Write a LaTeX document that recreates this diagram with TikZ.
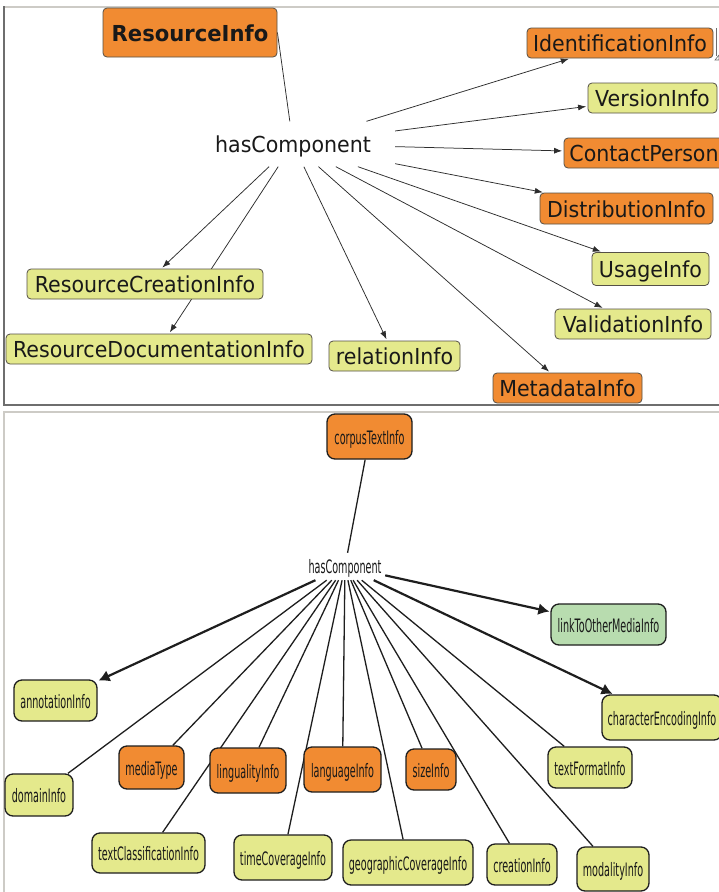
\documentclass[tikz,border=0pt]{standalone}
\usepackage{fontspec}
\setmainfont{DejaVu Sans}
\newfontfamily\topfont[FakeStretch=0.935]{DejaVu Sans}
\newfontfamily\topboldfont[FakeStretch=0.96]{DejaVu Sans}
\newfontfamily\lowfont[FakeStretch=0.52]{DejaVu Sans}
\usetikzlibrary{arrows.meta,backgrounds}

\definecolor{orangeF}{RGB}{241,139,50}
\definecolor{yellowF}{RGB}{228,233,140}
\definecolor{greenF}{RGB}{184,220,175}
\definecolor{tbord}{RGB}{85,80,70}
\definecolor{bbord}{RGB}{30,30,30}
\definecolor{tink}{RGB}{25,25,25}
\definecolor{lineC}{RGB}{45,45,45}
\definecolor{frameDark}{RGB}{110,110,110}
\definecolor{frameLight}{RGB}{205,203,198}

\tikzset{
  tnode/.style={draw=tbord, line width=0.8pt, rounded corners=4pt, inner sep=0pt,
    text=tink, font=\topfont\fontsize{22}{26}\selectfont,
    text height=17pt, text depth=0pt},
  torange/.style={tnode, fill=orangeF},
  tyellow/.style={tnode, fill=yellowF},
  tlink/.style={draw=lineC, line width=0.75pt, -{Latex[length=8pt,width=6pt]}, shorten >=1.5pt},
  tplain/.style={draw=lineC, line width=0.75pt},
  bnode/.style={draw=bbord, line width=1.3pt, rounded corners=8pt, inner sep=0pt,
    text=tink, font=\lowfont\fontsize{18.5}{22}\selectfont,
    text height=15pt, text depth=0pt},
  borange/.style={bnode, fill=orangeF},
  byellow/.style={bnode, fill=yellowF},
  bgreen/.style={bnode, fill=greenF},
  bline/.style={draw=bbord, line width=1.3pt},
  barrow/.style={draw=bbord, line width=2.2pt, -{Latex[length=11pt,width=12pt]}, shorten >=1pt},
}

\begin{document}
\begin{tikzpicture}[x=1pt,y=-1pt]
\useasboundingbox (0,0) rectangle (719,892);

% ---------- upper panel: ResourceInfo ----------
\node[torange, font=\topboldfont\bfseries\fontsize{22}{26}\selectfont,
      minimum width=174pt, minimum height=49pt] (ri) at (190,32.5) {ResourceInfo};
\node[inner sep=0pt, minimum width=204pt, minimum height=45pt, text=tink,
      font=\topfont\fontsize{22}{26}\selectfont, text height=17pt, text depth=0pt]
      (hc1) at (293,144) {hasComponent};

\node[torange, minimum width=186pt, minimum height=30pt] (idi)   at (620,43)    {IdentificationInfo};
\node[tyellow, minimum width=129pt, minimum height=30pt] (ver)   at (652.5,98)  {VersionInfo};
\node[torange, minimum width=160pt, minimum height=30pt] (cp)    at (644,153)   {ContactPerson};
\node[torange, minimum width=173pt, minimum height=31pt] (dist)  at (626.5,208.5) {DistributionInfo};
\node[tyellow, minimum width=117pt, minimum height=33pt] (usage) at (650.5,269)  {UsageInfo};
\node[tyellow, minimum width=156pt, minimum height=30pt] (valid) at (633,324)    {ValidationInfo};
\node[torange, minimum width=149pt, minimum height=30pt] (meta)  at (567.5,388)  {MetadataInfo};
\node[tyellow, minimum width=236pt, minimum height=30pt] (rci)   at (145,284)    {ResourceCreationInfo};
\node[tyellow, minimum width=306pt, minimum height=30pt] (rdi)   at (159,349)    {ResourceDocumentationInfo};
\node[tyellow, minimum width=131pt, minimum height=30pt] (rel)   at (394.5,356)  {relationInfo};

% ---------- lower panel: corpusTextInfo ----------
\node[borange, minimum width=85pt, minimum height=45pt] (cti) at (369.5,436.5) {corpusTextInfo};
\node[inner sep=0pt, minimum width=80pt, minimum height=27pt, text=tink,
      font=\lowfont\fontsize{18.5}{22}\selectfont, text height=13pt, text depth=0pt]
      (hc2) at (345,566.5) {hasComponent};

\node[bgreen,  minimum width=115pt, minimum height=41pt] (link) at (608.5,624.5) {linkToOtherMediaInfo};
\node[byellow, minimum width=83pt,  minimum height=41pt] (ann)  at (55.5,700.5)  {annotationInfo};
\node[byellow, minimum width=68pt,  minimum height=42pt] (dom)  at (39,795)      {domainInfo};
\node[borange, minimum width=65pt,  minimum height=43pt] (med)  at (151.5,767.5) {mediaType};
\node[borange, minimum width=76pt,  minimum height=45pt] (ling) at (248,770.5)   {lingualityInfo};
\node[borange, minimum width=77pt,  minimum height=45pt] (lang) at (342.5,769.5) {languageInfo};
\node[borange, minimum width=50pt,  minimum height=41pt] (size) at (431,769.5)   {sizeInfo};
\node[byellow, minimum width=84pt,  minimum height=41pt] (tfi)  at (590,767.5)   {textFormatInfo};
\node[byellow, minimum width=120pt, minimum height=45pt] (cei)  at (662,717.5)   {characterEncodingInfo};
\node[byellow, minimum width=113pt, minimum height=40pt] (tci)  at (148.5,853)   {textClassificationInfo};
\node[byellow, minimum width=98pt,  minimum height=45pt] (tcov) at (283,857.5)   {timeCoverageInfo};
\node[byellow, minimum width=130pt, minimum height=45pt] (geo)  at (408,862.5)   {geographicCoverageInfo};
\node[byellow, minimum width=70pt,  minimum height=41pt] (cre)  at (522,864.5)   {creationInfo};
\node[byellow, minimum width=72pt,  minimum height=44pt] (mod)  at (613,869)     {modalityInfo};

% edge marker beside IdentificationInfo
\draw[frameDark, line width=0.8pt] (716.5,28) -- (716.5,56);
\draw[frameDark, line width=0.6pt, fill=white] (715,60) -- (719,55) -- (719,60) -- cycle;

\begin{scope}[on background layer]
  \fill[white] (0,0) rectangle (719,892);
  % panel frames
  \draw[frameLight, line width=2pt] (4,6.5) -- (719,6.5);
  \draw[frameDark, line width=1.2pt] (4,6) -- (4,405) -- (719,405);
  \draw[frameLight, line width=2pt] (4,892) -- (4,412) -- (719,412);

  % upper connectors
  \draw[tplain] (ri.east) -- (hc1);
  \foreach \t in {idi,ver,cp,dist,usage,valid,meta,rel,rci,rdi}
    \draw[tlink] (hc1) -- (\t);

  % lower connectors
  \draw[bline] (cti) -- (hc2);
  \foreach \t in {dom,med,ling,lang,size,tfi,tci,tcov,geo,cre,mod}
    \draw[bline] (hc2) -- (\t);
  \foreach \t in {ann,link,cei}
    \draw[barrow] (hc2) -- (\t);
\end{scope}
\end{tikzpicture}
\end{document}
